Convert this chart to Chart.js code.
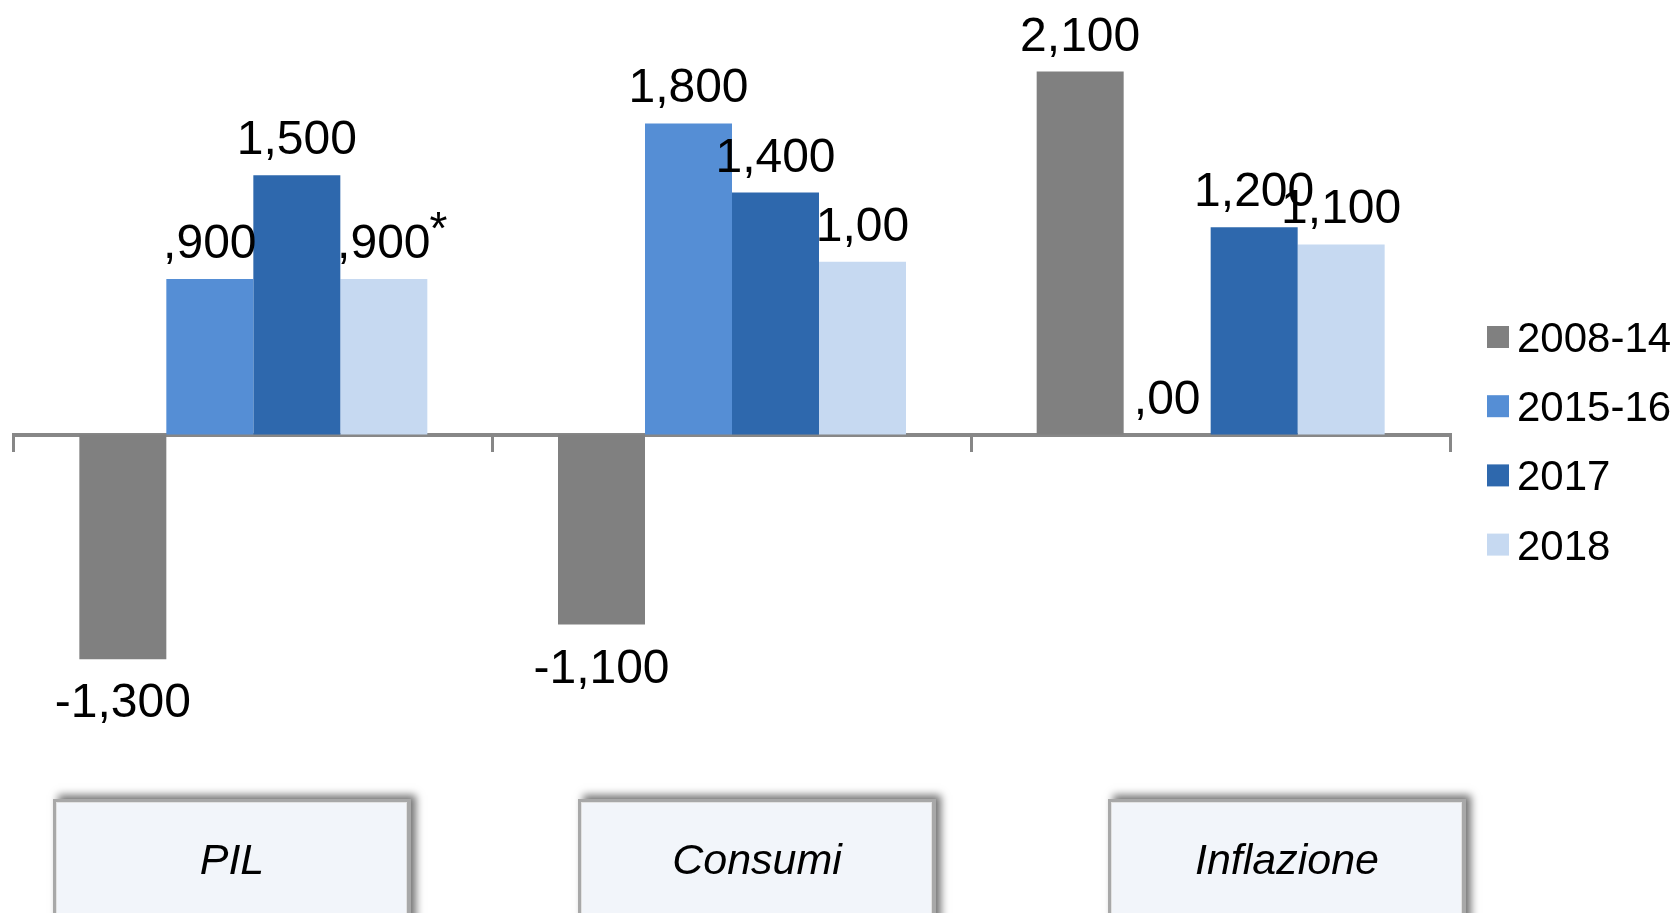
<!DOCTYPE html>
<html lang="it">
<head>
<meta charset="utf-8">
<title>PIL, Consumi, Inflazione</title>
<script src="https://cdn.jsdelivr.net/npm/chart.js@4/dist/chart.umd.min.js"></script>
<style>
  html, body { margin: 0; padding: 0; background: #ffffff; }
  #wrap { width: 1679px; height: 913px; position: relative; overflow: hidden; }
  canvas { display: block; }
</style>
</head>
<body>
<div id="wrap"><canvas id="c" width="1679" height="913"></canvas></div>
<script>
// Categorie e serie (variazioni %)
const categories = ['PIL', 'Consumi', 'Inflazione'];
const seriesNames = ['2008-14', '2015-16', '2017', '2018'];

const v2008_14 = [-1.3, -1.1, 2.1];
const v2015_16 = [0.9, 1.8, 0.0];
const v2017    = [1.5, 1.4, 1.2];
const v2018    = [0.9, 1.0, 1.1];

// Etichette dei valori come compaiono sopra/sotto le barre
const lbl2008_14 = ['-1,300', '-1,100', '2,100'];
const lbl2015_16 = [',900', '1,800', ',00'];
const lbl2017    = ['1,500', '1,400', '1,200'];
const lbl2018    = [',900', '1,00', '1,100'];
// Richiami in apice
const note2018   = ['*', '', ''];

const colors = ['#808080', '#558ED5', '#2E68AD', '#C6D9F1'];

const allValues = [v2008_14, v2015_16, v2017, v2018];
const allLabels = [lbl2008_14, lbl2015_16, lbl2017, lbl2018];
const allNotes  = [['', '', ''], ['', '', ''], ['', '', ''], note2018];

const FONT = '"Liberation Sans", Arial, sans-serif';

// Etichette dei valori
const valueLabels = {
  id: 'valueLabels',
  afterDatasetsDraw(chart) {
    const ctx = chart.ctx;
    ctx.save();
    chart.data.datasets.forEach((ds, i) => {
      const meta = chart.getDatasetMeta(i);
      meta.data.forEach((bar, j) => {
        const v = ds.data[j];
        const text = allLabels[i][j];
        const y = v >= 0 ? bar.y - 21 : bar.y + 58;
        ctx.font = '48px ' + FONT;
        ctx.fillStyle = '#000000';
        ctx.textAlign = 'center';
        ctx.textBaseline = 'alphabetic';
        ctx.fillText(text, bar.x, y);
        const note = allNotes[i][j];
        if (note) {
          const w = ctx.measureText(text).width;
          ctx.font = '46px ' + FONT;
          ctx.textAlign = 'left';
          ctx.fillText(note, bar.x + w / 2 - 1, y - 14);
        }
      });
    });
    ctx.restore();
  }
};

// Legenda a destra
const sideLegend = {
  id: 'sideLegend',
  afterDraw(chart) {
    const ctx = chart.ctx;
    const area = chart.chartArea;
    ctx.save();
    ctx.font = '42px ' + FONT;
    ctx.textAlign = 'left';
    ctx.textBaseline = 'alphabetic';
    chart.data.datasets.forEach((ds, i) => {
      const cy = 337 + i * 69.2;
      ctx.fillStyle = ds.backgroundColor;
      ctx.fillRect(area.right + 37, cy - 11, 22, 22);
      ctx.fillStyle = '#000000';
      ctx.fillText(ds.label, area.right + 67, cy + 15);
    });
    ctx.restore();
  }
};

// Riquadri con i nomi delle categorie
const categoryBoxes = {
  id: 'categoryBoxes',
  afterDraw(chart) {
    const ctx = chart.ctx;
    const lefts = [53, 578, 1108];
    const w = 358, top = 799, h = 140;
    ctx.save();
    chart.data.labels.forEach((name, k) => {
      const x = lefts[k];
      ctx.save();
      ctx.shadowColor = 'rgba(0,0,0,0.55)';
      ctx.shadowBlur = 8;
      ctx.shadowOffsetX = 5;
      ctx.shadowOffsetY = -4;
      ctx.fillStyle = '#A8A8A8';
      ctx.fillRect(x, top, w, h);
      ctx.restore();
      ctx.fillStyle = '#F2F5FA';
      ctx.fillRect(x + 4, top + 4, w - 9, h);
      ctx.strokeStyle = '#E2E2E2';
      ctx.lineWidth = 1;
      ctx.strokeRect(x + 3.5, top + 3.5, w - 8, h);
      ctx.fillStyle = '#000000';
      ctx.font = 'italic 43px ' + FONT;
      ctx.textAlign = 'center';
      ctx.textBaseline = 'alphabetic';
      ctx.fillText(name, x + w / 2, 874);
    });
    ctx.restore();
  }
};

new Chart(document.getElementById('c'), {
  type: 'bar',
  data: {
    labels: categories,
    datasets: seriesNames.map((name, i) => ({
      label: name,
      data: allValues[i],
      backgroundColor: colors[i],
      borderWidth: 0,
      barPercentage: 1.0,
      categoryPercentage: 0.727
    }))
  },
  options: {
    responsive: false,
    animation: false,
    devicePixelRatio: 1,
    layout: { padding: { left: 14, right: 229, top: 2.5, bottom: 46.5 } },
    plugins: {
      legend: { display: false },
      tooltip: { enabled: false }
    },
    scales: {
      x: {
        type: 'category',
        position: { y: 0 },
        z: 1,
        grid: {
          display: true,
          offset: true,
          drawOnChartArea: false,
          drawTicks: true,
          tickLength: 15,
          tickWidth: 3,
          tickColor: '#878787',
          color: '#878787',
          lineWidth: 3
        },
        border: { display: true, color: '#878787', width: 4 },
        ticks: { display: false }
      },
      y: {
        display: false,
        min: -2.5,
        max: 2.5,
        grid: { display: false }
      }
    }
  },
  plugins: [valueLabels, sideLegend, categoryBoxes]
});
</script>
</body>
</html>
